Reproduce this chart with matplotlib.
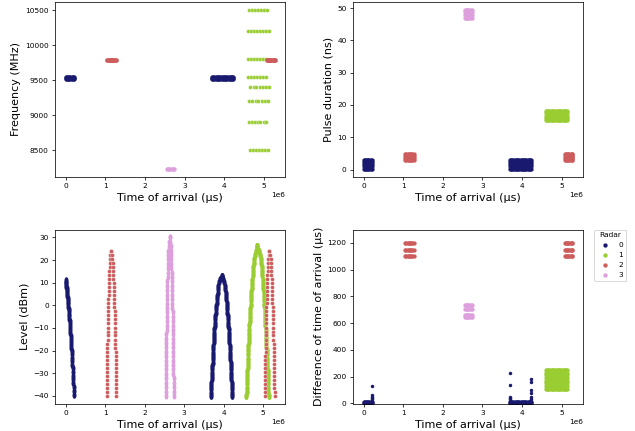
import numpy as np
import matplotlib
matplotlib.use("Agg")
import matplotlib.pyplot as plt

# radar colours, legend order 0..3
radar_names = ["0", "1", "2", "3"]
radar_colors = ["midnightblue", "yellowgreen", "indianred", "plum"]

# ---- time of arrival lists (in seconds, plotted in µs) ----
r0_toa_a = [0.0, 0.03, 0.06, 0.09, 0.12, 0.15, 0.18, 0.21]
r0_toa_b = [3.69, 3.72, 3.75, 3.78, 3.81, 3.84, 3.87, 3.90, 3.93, 3.96,
            3.99, 4.02, 4.05, 4.08, 4.11, 4.14, 4.17, 4.20, 4.22]
r1_toa = [4.60, 4.63, 4.66, 4.69, 4.72, 4.75, 4.78, 4.81, 4.84, 4.87,
          4.90, 4.93, 4.96, 4.99, 5.02, 5.05, 5.08, 5.11, 5.14]
r2_toa_a = [1.05, 1.08, 1.11, 1.14, 1.17, 1.20, 1.23, 1.26]
r2_toa_b = [5.07, 5.10, 5.13, 5.16, 5.19, 5.22, 5.25, 5.27]
r3_toa = [2.55, 2.58, 2.61, 2.64, 2.67, 2.70, 2.73]

# ---- frequency (MHz) ----
r0_freq = [9515, 9530, 9545]
r2_freq = [9785, 9795]
r3_freq = [8240]
r1_freq = [10500, 10200, 9800, 9550, 9400, 9200, 8900, 8500]
r1_freq_toa = [
    [4.62, 4.70, 4.77, 4.85, 4.92, 5.00, 5.07],
    [4.60, 4.675, 4.75, 4.82, 4.90, 4.97, 5.05, 5.12],
    [4.60, 4.675, 4.75, 4.82, 4.90, 4.97, 5.05],
    [4.60, 4.68, 4.75, 4.83, 4.91, 4.98, 5.06],
    [4.66, 4.74, 4.81, 4.89, 4.97, 5.04, 5.12],
    [4.63, 4.71, 4.79, 4.86, 4.94, 5.02, 5.10],
    [4.62, 4.69, 4.77, 4.84, 4.91, 4.99, 5.06],
    [4.64, 4.72, 4.79, 4.87, 4.95, 5.02, 5.10],
]

# ---- pulse duration (ns) ----
r0_pw = [0.3, 1.0, 1.7, 2.4, 3.1]
r1_pw = [15.3, 16.0, 16.7, 17.4, 18.0]
r2_pw = [3.0, 3.6, 4.2, 4.8]
r3_pw = [47.1, 47.9, 48.7, 49.4]

# ---- level (dBm) ----
r0_lvl_a_toa = [0.000, 0.005, 0.010, 0.015, 0.020, 0.025, 0.030, 0.035, 0.040, 0.045,
                0.050, 0.055, 0.060, 0.065, 0.070, 0.075, 0.080, 0.085, 0.090, 0.095,
                0.100, 0.105, 0.110, 0.115, 0.120, 0.125, 0.130, 0.135, 0.140, 0.145,
                0.150, 0.155, 0.160, 0.165, 0.170, 0.175, 0.180, 0.185, 0.190, 0.195,
                0.200, 0.205, 0.210]
r0_lvl_a = [11.0, 10.4, 9.7, 9.0, 8.2, 7.5, 6.7, 5.9, 5.0, 4.2,
            3.3, 2.3, 1.4, 0.4, -0.6, -1.6, -2.7, -3.7, -4.9, -6.0,
            -7.1, -8.3, -9.6, -10.8, -12.1, -13.4, -14.7, -16.0, -17.4, -18.8,
            -20.2, -21.7, -23.2, -24.7, -26.2, -27.8, -29.4, -31.0, -32.6, -34.3,
            -36.0, -37.7, -39.5]

r0_lvl_b = [13.0, 11.5, 10.1, 8.6, 7.1, 5.6, 4.2, 2.7, 1.2, -0.3,
            -1.7, -3.2, -4.7, -6.1, -7.6, -9.1, -10.6, -12.0, -13.5, -15.0,
            -16.4, -17.9, -19.4, -20.9, -22.3, -23.8, -25.3, -26.8, -28.2, -29.7,
            -31.2, -32.6, -34.1, -35.6, -37.1, -38.5, -40.0]
r0_lvl_b_left = [3.950, 3.905, 3.886, 3.872, 3.860, 3.849, 3.840, 3.831, 3.823, 3.815,
                 3.808, 3.801, 3.794, 3.788, 3.782, 3.776, 3.770, 3.764, 3.759, 3.754,
                 3.749, 3.744, 3.739, 3.734, 3.730, 3.725, 3.721, 3.716, 3.712, 3.708,
                 3.704, 3.699, 3.695, 3.692, 3.688, 3.684, 3.680]
r0_lvl_b_right = [3.950, 3.995, 4.014, 4.028, 4.040, 4.051, 4.060, 4.069, 4.077, 4.085,
                  4.092, 4.099, 4.106, 4.112, 4.118, 4.124, 4.130, 4.136, 4.141, 4.146,
                  4.151, 4.156, 4.161, 4.166, 4.171, 4.175, 4.179, 4.184, 4.188, 4.192,
                  4.197, 4.201, 4.205, 4.209, 4.212, 4.216, 4.220]

r1_lvl = [26.0, 24.2, 22.3, 20.5, 18.7, 16.8, 15.0, 13.2, 11.3, 9.5,
          7.7, 5.8, 4.0, 2.2, 0.3, -1.5, -3.3, -5.2, -7.0, -8.8,
          -10.7, -12.5, -14.3, -16.2, -18.0, -19.8, -21.7, -23.5, -25.3, -27.2,
          -29.0, -30.8, -32.7, -34.5, -36.3, -38.2, -40.0]
r1_lvl_left = [4.860, 4.813, 4.794, 4.779, 4.767, 4.756, 4.746, 4.737, 4.728, 4.720,
               4.712, 4.705, 4.698, 4.692, 4.685, 4.679, 4.673, 4.668, 4.662, 4.657,
               4.651, 4.646, 4.641, 4.636, 4.631, 4.627, 4.622, 4.618, 4.613, 4.609,
               4.604, 4.600, 4.596, 4.592, 4.588, 4.584, 4.580]
r1_lvl_right = [4.860, 4.907, 4.926, 4.941, 4.953, 4.964, 4.974, 4.984, 4.992, 5.000,
                5.008, 5.015, 5.022, 5.028, 5.035, 5.041, 5.047, 5.052, 5.058, 5.063,
                5.069, 5.074, 5.079, 5.084, 5.089, 5.093, 5.098, 5.103, 5.107, 5.111,
                5.116, 5.120, 5.124, 5.128, 5.132, 5.136, 5.140]

r2_lvl = [24.0, 22.2, 20.4, 18.7, 16.9, 15.1, 13.3, 11.6, 9.8, 8.0,
          6.2, 4.4, 2.7, 0.9, -0.9, -2.7, -4.4, -6.2, -8.0, -9.8,
          -11.6, -13.3, -15.1, -16.9, -18.7, -20.4, -22.2, -24.0, -25.8, -27.6,
          -29.3, -31.1, -32.9, -34.7, -36.4, -38.2, -40.0]
r2_lvl_left_a = [1.150, 1.131, 1.123, 1.117, 1.112, 1.107, 1.103, 1.099, 1.096, 1.093,
                 1.089, 1.086, 1.084, 1.081, 1.078, 1.076, 1.073, 1.071, 1.069, 1.067,
                 1.064, 1.062, 1.060, 1.058, 1.056, 1.054, 1.052, 1.050, 1.049, 1.047,
                 1.045, 1.043, 1.042, 1.040, 1.038, 1.037, 1.035]
r2_lvl_right_a = [1.150, 1.173, 1.182, 1.189, 1.195, 1.200, 1.205, 1.210, 1.214, 1.218,
                  1.221, 1.225, 1.228, 1.231, 1.234, 1.237, 1.240, 1.243, 1.246, 1.248,
                  1.251, 1.253, 1.256, 1.258, 1.260, 1.263, 1.265, 1.267, 1.269, 1.271,
                  1.273, 1.275, 1.277, 1.279, 1.281, 1.283, 1.285]
r2_lvl_left_b = [5.160, 5.141, 5.133, 5.127, 5.122, 5.117, 5.113, 5.109, 5.106, 5.103,
                 5.099, 5.096, 5.094, 5.091, 5.088, 5.086, 5.083, 5.081, 5.079, 5.077,
                 5.074, 5.072, 5.070, 5.068, 5.066, 5.064, 5.062, 5.060, 5.059, 5.057,
                 5.055, 5.053, 5.052, 5.050, 5.048, 5.047, 5.045]
r2_lvl_right_b = [5.160, 5.183, 5.192, 5.199, 5.205, 5.210, 5.215, 5.220, 5.224, 5.228,
                  5.231, 5.235, 5.238, 5.241, 5.244, 5.247, 5.250, 5.253, 5.256, 5.258,
                  5.261, 5.263, 5.266, 5.268, 5.270, 5.273, 5.275, 5.277, 5.279, 5.281,
                  5.283, 5.285, 5.287, 5.289, 5.291, 5.293, 5.295]

r3_lvl = [30.0, 28.1, 26.1, 24.2, 22.2, 20.3, 18.3, 16.4, 14.4, 12.5,
          10.6, 8.6, 6.7, 4.7, 2.8, 0.8, -1.1, -3.1, -5.0, -6.9,
          -8.9, -10.8, -12.8, -14.7, -16.7, -18.6, -20.6, -22.5, -24.4, -26.4,
          -28.3, -30.3, -32.2, -34.2, -36.1, -38.1, -40.0]
r3_lvl_left = [2.635, 2.618, 2.610, 2.605, 2.600, 2.596, 2.592, 2.589, 2.586, 2.583,
               2.580, 2.577, 2.574, 2.572, 2.570, 2.567, 2.565, 2.563, 2.561, 2.559,
               2.557, 2.555, 2.553, 2.551, 2.549, 2.548, 2.546, 2.544, 2.542, 2.541,
               2.539, 2.538, 2.536, 2.535, 2.533, 2.532, 2.530]
r3_lvl_right = [2.635, 2.653, 2.660, 2.665, 2.670, 2.674, 2.678, 2.681, 2.685, 2.688,
                2.690, 2.693, 2.696, 2.698, 2.701, 2.703, 2.705, 2.707, 2.709, 2.711,
                2.713, 2.715, 2.717, 2.719, 2.721, 2.723, 2.724, 2.726, 2.728, 2.729,
                2.731, 2.732, 2.734, 2.736, 2.737, 2.739, 2.740]

# ---- difference of time of arrival (µs) ----
r0_dtoa = [6, 12]
r0_jump_toa = [0.215, 3.685, 4.225]
r0_jump_dtoa = [[20, 30, 40, 50, 60, 130],
                [20, 30, 40, 50, 140, 225],
                [20, 30, 50, 75, 100, 160, 185]]
r1_dtoa = [110, 130, 150, 170, 190, 210, 230, 250]
r2_dtoa = [1100, 1150, 1200]
r3_dtoa = [648, 664, 704, 736]


def grid(toas, vals):
    t, v = np.meshgrid(toas, vals)
    return t.ravel() * 1e6, v.ravel()


def arc(lvl, left, right):
    return np.array(left + right) * 1e6, np.array(lvl + lvl)


# slightly tall dot so the dense level traces read as one stroke
ang = np.linspace(0, 2 * np.pi, 33)
tall_dot = np.column_stack([0.62 * np.cos(ang), np.sin(ang)])


def dots(ax, xy, i, s=22, lw=0.0, label=None, marker="o"):
    ax.scatter(xy[0], xy[1], s=s, color=radar_colors[i], edgecolors="white",
               linewidths=lw, label=label, marker=marker)


fig, axes = plt.subplots(2, 2, figsize=(9.525, 6.465), dpi=200 / 3)
fig.subplots_adjust(left=0.087, right=0.918, top=0.995, bottom=0.063,
                    wspace=0.296, hspace=0.304)
ax_f, ax_pw, ax_lv, ax_dt = axes.ravel()

# frequency
dots(ax_f, grid(r0_toa_a, r0_freq), 0)
dots(ax_f, grid(r0_toa_b, r0_freq), 0)
for f, ts in zip(r1_freq, r1_freq_toa):
    dots(ax_f, (np.array(ts) * 1e6, [f] * len(ts)), 1, s=18, lw=0.3)
dots(ax_f, grid(r2_toa_a, r2_freq), 2)
dots(ax_f, grid(r2_toa_b, r2_freq), 2)
dots(ax_f, grid(r3_toa, r3_freq), 3)
ax_f.set_ylabel("Frequency (MHz)", fontsize=12)

# pulse duration
dots(ax_pw, grid(r0_toa_a, r0_pw), 0)
dots(ax_pw, grid(r0_toa_b, r0_pw), 0)
dots(ax_pw, grid(r1_toa, r1_pw), 1)
dots(ax_pw, grid(r2_toa_a, r2_pw), 2)
dots(ax_pw, grid(r2_toa_b, r2_pw), 2)
dots(ax_pw, grid(r3_toa, r3_pw), 3)
ax_pw.set_ylabel("Pulse duration (ns)", fontsize=12)

# level
dots(ax_lv, (np.array(r0_lvl_a_toa) * 1e6, r0_lvl_a), 0, s=50, marker=tall_dot)
dots(ax_lv, arc(r0_lvl_b, r0_lvl_b_left, r0_lvl_b_right), 0, s=55, marker=tall_dot)
dots(ax_lv, arc(r1_lvl, r1_lvl_left, r1_lvl_right), 1, s=60, marker=tall_dot)
dots(ax_lv, arc(r2_lvl, r2_lvl_left_a, r2_lvl_right_a), 2, s=18, lw=0.3)
dots(ax_lv, arc(r2_lvl, r2_lvl_left_b, r2_lvl_right_b), 2, s=18, lw=0.3)
dots(ax_lv, arc(r3_lvl, r3_lvl_left, r3_lvl_right), 3, s=45, marker=tall_dot)
ax_lv.set_ylabel("Level (dBm)", fontsize=12)

# difference of time of arrival
dots(ax_dt, grid(r0_toa_a, r0_dtoa), 0, label=radar_names[0])
dots(ax_dt, grid(r0_toa_b, r0_dtoa), 0)
for t, vals in zip(r0_jump_toa, r0_jump_dtoa):
    dots(ax_dt, ([t * 1e6] * len(vals), vals), 0, s=14)
dots(ax_dt, grid(r1_toa, r1_dtoa), 1, label=radar_names[1])
dots(ax_dt, grid(r2_toa_a, r2_dtoa), 2, label=radar_names[2])
dots(ax_dt, grid(r2_toa_b, r2_dtoa), 2)
dots(ax_dt, grid(r3_toa, r3_dtoa), 3, label=radar_names[3])
ax_dt.set_ylim(-3, 1300)
ax_dt.set_ylabel("Difference of time of arrival (µs)", fontsize=12)
ax_dt.legend(title="Radar", loc="upper left", bbox_to_anchor=(1.05, 1),
             borderaxespad=0, fontsize=8, title_fontsize=8, markerscale=1.0)

for ax in axes.ravel():
    ax.set_xlabel("Time of arrival (µs)", fontsize=12)
    ax.tick_params(labelsize=8)
    ax.xaxis.get_offset_text().set_fontsize(8)

fig.savefig("out.png", dpi=200 / 3)
